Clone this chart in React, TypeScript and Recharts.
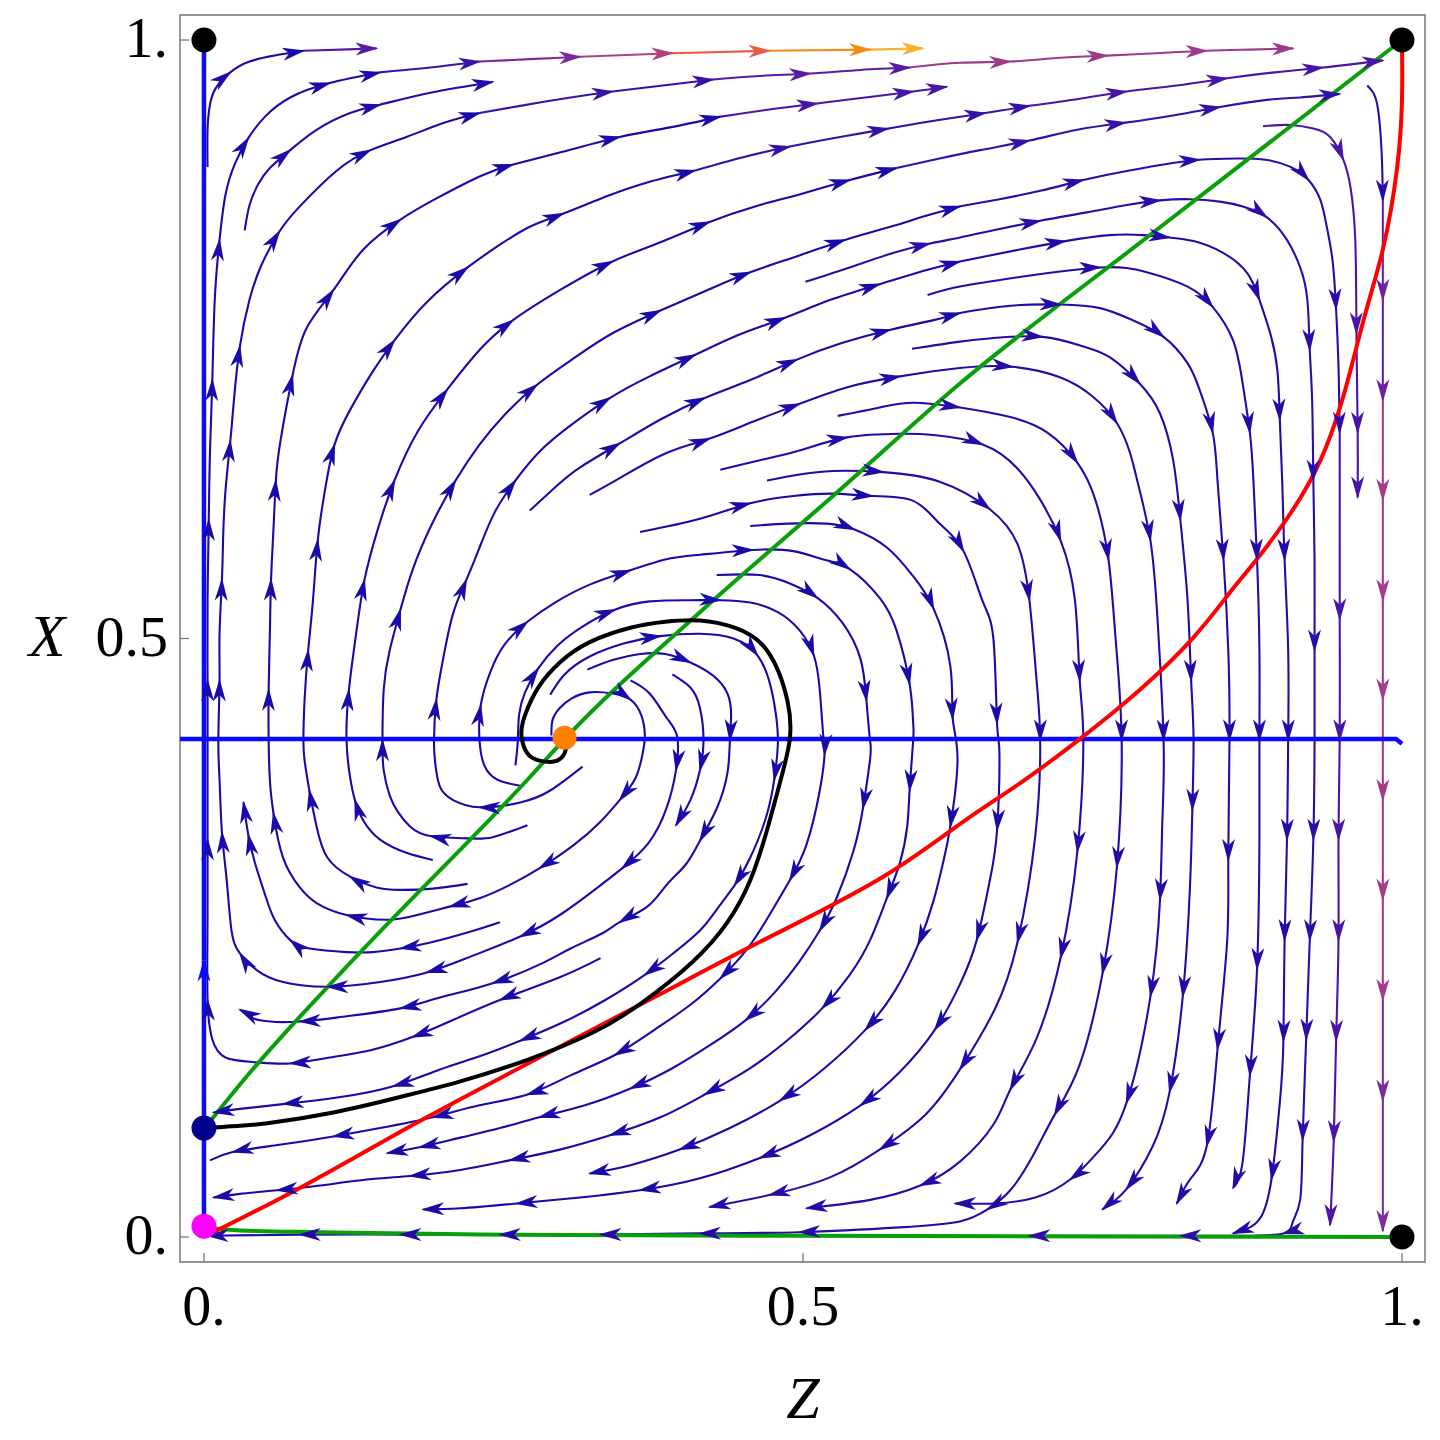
import React from "react";
import { ComposedChart, Line, Scatter, XAxis, YAxis, ReferenceArea } from "recharts";

type Pair = [number, number];

const Z_RANGE: Pair = [-0.02, 1.0192];
const X_RANGE: Pair = [-0.0209, 1.0209];
const TICK_VALUES = [0, 0.5, 1];
const TICK_LABELS = ["0.", "0.5", "1."];

// fixed points (Z, X)
const cornerDots: Pair[] = [[0, 1], [1, 1], [1, 0]];
const navyDot: Pair[] = [[0, 0.091]];
const magentaDot: Pair[] = [[0, 0.009]];
const focusDot: Pair[] = [[0.301, 0.417]];

// invariant lines and special curves
const axisZ0Low: Pair[] = [[0, 0.009], [0, 0.231]];
const axisZ0High: Pair[] = [[0, 0.231], [0, 1]];
const axisX: Pair[] = [[-0.02, 0.416], [0.995, 0.416], [1.0, 0.412]];
const greenDiag: Pair[] = [[0.003, 0.094], [0.033, 0.131], [0.124, 0.231], [0.27, 0.382], [0.302, 0.417], [0.414, 0.522], [0.525, 0.619], [0.631, 0.713], [0.787, 0.835], [1.0, 1.0]];
const greenBottom: Pair[] = [[0.001, 0.008], [0.009, 0.007], [0.03, 0.0055], [0.097, 0.004], [0.23, 0.002], [0.497, 0.001], [0.748, 0.0005], [1.0, 0]];
const redCurve: Pair[] = [[0, 0], [0.08, 0.041], [0.164, 0.088], [0.214, 0.115], [0.297, 0.159], [0.381, 0.203], [0.467, 0.248], [0.562, 0.298], [0.631, 0.345], [0.681, 0.379], [0.731, 0.416], [0.781, 0.457], [0.826, 0.501], [0.856, 0.538], [0.881, 0.569], [0.932, 0.649], [0.965, 0.755], [0.984, 0.825], [0.996, 0.894], [1.0, 0.95], [1.0, 1.0]];
const blackCurve: Pair[] = [[0.002, 0.091], [0.03, 0.093], [0.053, 0.095], [0.108, 0.104], [0.164, 0.117], [0.214, 0.13], [0.27, 0.148], [0.325, 0.171], [0.366, 0.196], [0.408, 0.23], [0.437, 0.263], [0.456, 0.298], [0.47, 0.34], [0.483, 0.388], [0.489, 0.416], [0.487, 0.448], [0.47, 0.49], [0.443, 0.509], [0.414, 0.515], [0.385, 0.514], [0.356, 0.509], [0.322, 0.497], [0.297, 0.48], [0.279, 0.459], [0.268, 0.436], [0.265, 0.419], [0.27, 0.404], [0.28, 0.398], [0.295, 0.398], [0.302, 0.407], [0.302, 0.414]];

// streamlines in flow order
const sB1: Pair[] = [[0.331, 0.233], [0.297, 0.217], [0.247, 0.198], [0.205, 0.18], [0.174, 0.167], [0.139, 0.156], [0.105, 0.15], [0.072, 0.145], [0.043, 0.146], [0.018, 0.15], [0.007, 0.165], [0.003, 0.198], [0.003, 0.265], [0.003, 0.332], [0.003, 0.398], [0.003, 0.465], [0.003, 0.532], [0.004, 0.599], [0.005, 0.655], [0.007, 0.716], [0.009, 0.783], [0.013, 0.833], [0.018, 0.871], [0.026, 0.897], [0.037, 0.918], [0.051, 0.936], [0.072, 0.952], [0.105, 0.964], [0.147, 0.973]];
const sTopA: Pair[] = [[0.147, 0.973], [0.189, 0.977], [0.23, 0.982]];
const sTopB: Pair[] = [[0.23, 0.982], [0.272, 0.984], [0.314, 0.986]];
const sTopC: Pair[] = [[0.314, 0.986], [0.391, 0.989]];
const sTopD: Pair[] = [[0.391, 0.989], [0.472, 0.991]];
const sTopE: Pair[] = [[0.472, 0.991], [0.556, 0.992]];
const sTopF: Pair[] = [[0.556, 0.992], [0.6, 0.993]];
const sL1: Pair[] = [[0.003, 0.894], [0.003, 0.925], [0.005, 0.946], [0.01, 0.96], [0.022, 0.973], [0.038, 0.982], [0.059, 0.987], [0.083, 0.991]];
const sL1b: Pair[] = [[0.083, 0.991], [0.114, 0.992], [0.144, 0.993]];
const sLc: Pair[] = [[0.034, 0.841], [0.038, 0.862], [0.045, 0.879], [0.055, 0.893], [0.072, 0.908], [0.094, 0.925], [0.122, 0.939], [0.147, 0.946], [0.189, 0.956], [0.241, 0.965]];
const sLd: Pair[] = [[0.356, 0.465], [0.372, 0.454], [0.386, 0.434], [0.395, 0.418], [0.394, 0.39], [0.386, 0.358], [0.371, 0.329], [0.349, 0.308], [0.326, 0.29], [0.297, 0.269], [0.264, 0.251], [0.222, 0.234], [0.186, 0.221], [0.147, 0.213], [0.103, 0.209], [0.066, 0.213], [0.044, 0.223], [0.03, 0.237], [0.023, 0.256], [0.019, 0.298], [0.015, 0.338], [0.013, 0.382], [0.012, 0.415], [0.013, 0.465], [0.013, 0.504], [0.015, 0.549], [0.016, 0.584], [0.018, 0.624], [0.022, 0.665], [0.025, 0.699], [0.03, 0.744], [0.038, 0.783], [0.048, 0.812], [0.063, 0.84], [0.08, 0.861], [0.111, 0.891], [0.139, 0.908], [0.169, 0.919], [0.201, 0.931], [0.23, 0.939]];
const sLd2: Pair[] = [[0.23, 0.939], [0.264, 0.945], [0.306, 0.952], [0.341, 0.957], [0.383, 0.962], [0.425, 0.967]];
const sLd3: Pair[] = [[0.425, 0.967], [0.464, 0.97], [0.506, 0.972], [0.548, 0.975], [0.589, 0.977]];
const sLd4: Pair[] = [[0.589, 0.977], [0.631, 0.981], [0.673, 0.982], [0.712, 0.985], [0.754, 0.987], [0.795, 0.989], [0.837, 0.991], [0.873, 0.992], [0.909, 0.993]];
const sLe: Pair[] = [[0.29, 0.419], [0.291, 0.432], [0.297, 0.442], [0.307, 0.45], [0.322, 0.455], [0.341, 0.454], [0.356, 0.449], [0.365, 0.436], [0.368, 0.419], [0.366, 0.403], [0.36, 0.383], [0.347, 0.365], [0.331, 0.347], [0.308, 0.327], [0.28, 0.308], [0.255, 0.294], [0.23, 0.283], [0.205, 0.276], [0.178, 0.269], [0.153, 0.265], [0.119, 0.269], [0.094, 0.279], [0.08, 0.292], [0.066, 0.317], [0.058, 0.354], [0.055, 0.382], [0.054, 0.415], [0.054, 0.457], [0.055, 0.504], [0.056, 0.549], [0.058, 0.591], [0.06, 0.632], [0.064, 0.666], [0.074, 0.72], [0.086, 0.76], [0.108, 0.791], [0.133, 0.825], [0.164, 0.85], [0.191, 0.866], [0.23, 0.886], [0.258, 0.896], [0.297, 0.906], [0.347, 0.919], [0.389, 0.927], [0.431, 0.936]];
const sLe2: Pair[] = [[0.431, 0.936], [0.472, 0.942], [0.512, 0.947], [0.552, 0.952], [0.592, 0.957], [0.62, 0.961]];
const sD: Pair[] = [[0.247, 0.263], [0.222, 0.255], [0.189, 0.246], [0.164, 0.241], [0.141, 0.238], [0.119, 0.238], [0.088, 0.241], [0.072, 0.248], [0.059, 0.265], [0.051, 0.286], [0.043, 0.311], [0.037, 0.336], [0.033, 0.363]];
const sLf: Pair[] = [[0.22, 0.295], [0.191, 0.291], [0.164, 0.29], [0.144, 0.292], [0.122, 0.301], [0.103, 0.317], [0.094, 0.343], [0.088, 0.373], [0.084, 0.398], [0.083, 0.415], [0.084, 0.449], [0.087, 0.49], [0.091, 0.532], [0.095, 0.582], [0.101, 0.624], [0.109, 0.662], [0.122, 0.691], [0.139, 0.72], [0.159, 0.749], [0.186, 0.781], [0.22, 0.81], [0.247, 0.829], [0.272, 0.844], [0.3, 0.855], [0.335, 0.869], [0.37, 0.881], [0.41, 0.891]];
const sLf2: Pair[] = [[0.41, 0.891], [0.45, 0.902], [0.489, 0.911], [0.531, 0.919], [0.571, 0.926], [0.612, 0.933], [0.652, 0.939], [0.689, 0.945]];
const sLf3: Pair[] = [[0.689, 0.945], [0.731, 0.951], [0.77, 0.957], [0.812, 0.962], [0.854, 0.968], [0.894, 0.973], [0.934, 0.977], [0.984, 0.983]];
const sLg: Pair[] = [[0.191, 0.315], [0.169, 0.321], [0.147, 0.332], [0.133, 0.348], [0.126, 0.365], [0.122, 0.384], [0.119, 0.415], [0.121, 0.457], [0.127, 0.504], [0.134, 0.549], [0.145, 0.591], [0.159, 0.632], [0.179, 0.674], [0.203, 0.708], [0.23, 0.741], [0.258, 0.766], [0.297, 0.791], [0.341, 0.815], [0.381, 0.831], [0.422, 0.848], [0.46, 0.861], [0.497, 0.871], [0.539, 0.883], [0.578, 0.893]];
const sLg2: Pair[] = [[0.578, 0.893], [0.614, 0.901], [0.648, 0.908], [0.689, 0.916], [0.729, 0.925], [0.769, 0.931], [0.809, 0.937], [0.848, 0.944], [0.887, 0.95], [0.915, 0.952], [0.948, 0.955]];
const sLh: Pair[] = [[0.27, 0.344], [0.241, 0.334], [0.22, 0.333], [0.189, 0.335], [0.172, 0.343], [0.162, 0.355], [0.155, 0.369], [0.15, 0.39], [0.149, 0.415], [0.15, 0.457], [0.155, 0.49], [0.164, 0.524], [0.174, 0.557], [0.19, 0.595], [0.21, 0.632], [0.23, 0.662], [0.251, 0.687], [0.278, 0.712], [0.31, 0.735], [0.341, 0.755], [0.381, 0.774], [0.42, 0.791], [0.456, 0.806], [0.497, 0.82], [0.535, 0.833], [0.573, 0.844], [0.602, 0.853], [0.631, 0.861]];
const sLh2: Pair[] = [[0.631, 0.861], [0.664, 0.867], [0.698, 0.874], [0.734, 0.883], [0.767, 0.89], [0.801, 0.896], [0.831, 0.9], [0.862, 0.901], [0.886, 0.9], [0.907, 0.894], [0.922, 0.883], [0.932, 0.866], [0.937, 0.845], [0.942, 0.816], [0.945, 0.775], [0.947, 0.727], [0.948, 0.672]];
const sLh3: Pair[] = [[0.948, 0.672], [0.948, 0.599], [0.948, 0.516], [0.948, 0.415], [0.947, 0.332], [0.947, 0.248], [0.945, 0.164], [0.943, 0.08], [0.94, 0.01]];
const sLi: Pair[] = [[0.316, 0.393], [0.289, 0.373], [0.264, 0.363], [0.23, 0.359], [0.208, 0.365], [0.197, 0.376], [0.193, 0.396], [0.192, 0.415], [0.194, 0.449], [0.2, 0.485], [0.208, 0.521], [0.219, 0.549], [0.23, 0.576], [0.243, 0.606], [0.26, 0.632], [0.28, 0.656], [0.306, 0.678], [0.339, 0.701], [0.372, 0.719], [0.41, 0.737], [0.447, 0.754], [0.485, 0.768], [0.523, 0.783], [0.564, 0.796], [0.604, 0.808], [0.631, 0.815]];
const sLi2: Pair[] = [[0.631, 0.815], [0.681, 0.825], [0.719, 0.832], [0.756, 0.837], [0.784, 0.837], [0.806, 0.835], [0.826, 0.832], [0.851, 0.822], [0.871, 0.805], [0.881, 0.783], [0.89, 0.755], [0.896, 0.724], [0.898, 0.683], [0.9, 0.632], [0.902, 0.566], [0.905, 0.49], [0.905, 0.415], [0.904, 0.332], [0.902, 0.248], [0.901, 0.164], [0.898, 0.112], [0.891, 0.048], [0.883, 0.018], [0.873, 0.008], [0.859, 0.003]];
const s827: Pair[] = [[0.26, 0.394], [0.262, 0.415], [0.263, 0.436], [0.268, 0.455], [0.279, 0.475], [0.295, 0.494], [0.316, 0.51], [0.343, 0.524], [0.372, 0.531], [0.406, 0.532], [0.431, 0.532], [0.456, 0.53], [0.479, 0.522], [0.497, 0.507], [0.509, 0.486], [0.514, 0.457], [0.517, 0.418], [0.518, 0.403], [0.514, 0.373], [0.503, 0.328], [0.489, 0.298], [0.472, 0.269], [0.453, 0.24], [0.431, 0.216], [0.406, 0.194], [0.376, 0.173], [0.343, 0.152], [0.306, 0.135], [0.27, 0.119], [0.23, 0.11], [0.191, 0.1], [0.147, 0.091], [0.108, 0.084], [0.063, 0.077], [0.024, 0.071], [0.005, 0.064]];
const sB: Pair[] = [[0.32, 0.474], [0.341, 0.482], [0.364, 0.487], [0.385, 0.487], [0.406, 0.48], [0.425, 0.469], [0.437, 0.454], [0.44, 0.436], [0.439, 0.415], [0.437, 0.388], [0.428, 0.358], [0.414, 0.331], [0.402, 0.311], [0.386, 0.294], [0.37, 0.276], [0.347, 0.263], [0.333, 0.254], [0.306, 0.241], [0.283, 0.229], [0.241, 0.212], [0.197, 0.2], [0.164, 0.191], [0.116, 0.184], [0.08, 0.18], [0.047, 0.181], [0.03, 0.19]];
const s703: Pair[] = [[0.391, 0.47], [0.406, 0.459], [0.414, 0.442], [0.417, 0.415], [0.414, 0.39], [0.406, 0.365], [0.394, 0.344]];
const sB2: Pair[] = [[0.289, 0.453], [0.301, 0.47], [0.322, 0.485], [0.351, 0.496], [0.381, 0.502], [0.414, 0.504], [0.442, 0.5], [0.462, 0.486], [0.473, 0.46], [0.478, 0.432], [0.479, 0.411], [0.476, 0.382], [0.469, 0.35], [0.456, 0.317], [0.443, 0.294], [0.429, 0.275], [0.414, 0.256], [0.393, 0.238], [0.368, 0.219], [0.335, 0.198], [0.301, 0.18], [0.264, 0.164], [0.23, 0.151], [0.197, 0.14], [0.158, 0.126], [0.114, 0.117], [0.066, 0.111], [0.03, 0.107], [0.008, 0.104]];
const s870: Pair[] = [[0.428, 0.553], [0.464, 0.553], [0.489, 0.546], [0.512, 0.534], [0.533, 0.513], [0.548, 0.483], [0.553, 0.448], [0.556, 0.415], [0.556, 0.399], [0.55, 0.358], [0.542, 0.322], [0.528, 0.283], [0.514, 0.256], [0.497, 0.23], [0.477, 0.205], [0.452, 0.181], [0.422, 0.16], [0.391, 0.141], [0.356, 0.124], [0.318, 0.11], [0.28, 0.1], [0.247, 0.091], [0.214, 0.083], [0.18, 0.075], [0.153, 0.07]];
const s913: Pair[] = [[0.264, 0.377], [0.245, 0.382], [0.234, 0.394], [0.23, 0.415], [0.231, 0.444], [0.239, 0.472], [0.251, 0.495], [0.27, 0.514], [0.293, 0.53], [0.322, 0.545], [0.356, 0.557], [0.385, 0.566], [0.414, 0.57], [0.458, 0.574], [0.492, 0.573], [0.517, 0.566], [0.539, 0.558], [0.564, 0.534], [0.578, 0.507], [0.589, 0.462], [0.592, 0.429], [0.592, 0.415], [0.589, 0.373], [0.587, 0.343], [0.581, 0.313], [0.57, 0.283], [0.556, 0.248], [0.539, 0.219], [0.516, 0.191], [0.489, 0.166], [0.456, 0.141], [0.418, 0.119], [0.381, 0.1], [0.339, 0.085], [0.297, 0.073], [0.255, 0.064], [0.214, 0.056], [0.172, 0.051], [0.136, 0.048], [0.097, 0.043], [0.061, 0.039], [0.03, 0.036], [0.008, 0.033]];
const s957: Pair[] = [[0.456, 0.594], [0.487, 0.596], [0.52, 0.596], [0.543, 0.591], [0.57, 0.576], [0.592, 0.552], [0.609, 0.525], [0.623, 0.477], [0.625, 0.433], [0.629, 0.399], [0.623, 0.343], [0.617, 0.313], [0.609, 0.281], [0.596, 0.244], [0.577, 0.206], [0.552, 0.173], [0.518, 0.141], [0.481, 0.114], [0.439, 0.091], [0.397, 0.073], [0.356, 0.06], [0.322, 0.053]];
const s1002: Pair[] = [[0.364, 0.589], [0.414, 0.6], [0.456, 0.613], [0.492, 0.619], [0.525, 0.621], [0.558, 0.619], [0.592, 0.615], [0.614, 0.596], [0.634, 0.573], [0.65, 0.531], [0.659, 0.499], [0.662, 0.429], [0.664, 0.403], [0.662, 0.34], [0.656, 0.298], [0.645, 0.248], [0.631, 0.211], [0.61, 0.173], [0.581, 0.138], [0.548, 0.11], [0.506, 0.085], [0.464, 0.066], [0.414, 0.049], [0.364, 0.039], [0.314, 0.033], [0.261, 0.028], [0.214, 0.024], [0.183, 0.023]];
const s1040: Pair[] = [[0.47, 0.632], [0.497, 0.637], [0.525, 0.64], [0.567, 0.639], [0.614, 0.631], [0.656, 0.608], [0.679, 0.579], [0.689, 0.532], [0.695, 0.465], [0.698, 0.415], [0.694, 0.336], [0.679, 0.246], [0.66, 0.19], [0.631, 0.14], [0.602, 0.102], [0.564, 0.073], [0.523, 0.05], [0.472, 0.035], [0.422, 0.025]];
const s1083: Pair[] = [[0.431, 0.641], [0.464, 0.649], [0.497, 0.657], [0.537, 0.668], [0.581, 0.671], [0.609, 0.67], [0.65, 0.662], [0.679, 0.642], [0.698, 0.616], [0.715, 0.582], [0.727, 0.532], [0.731, 0.465], [0.734, 0.415], [0.729, 0.322], [0.715, 0.233], [0.695, 0.166], [0.673, 0.123], [0.659, 0.094], [0.631, 0.063], [0.598, 0.043], [0.556, 0.031], [0.503, 0.024]];
const s1122: Pair[] = [[0.529, 0.686], [0.564, 0.693], [0.592, 0.697], [0.631, 0.693], [0.673, 0.685], [0.704, 0.672], [0.729, 0.647], [0.744, 0.616], [0.755, 0.566], [0.761, 0.499], [0.766, 0.415], [0.762, 0.309], [0.75, 0.22], [0.731, 0.144], [0.71, 0.102], [0.692, 0.068], [0.673, 0.039], [0.654, 0.023], [0.631, 0.013], [0.581, 0.008], [0.497, 0.004], [0.414, 0.003], [0.331, 0.002], [0.247, 0.002], [0.164, 0.002], [0.08, 0.002], [0.003, 0.001]];
const s1163: Pair[] = [[0.322, 0.62], [0.347, 0.634], [0.386, 0.655], [0.422, 0.667], [0.458, 0.681], [0.497, 0.696], [0.537, 0.71], [0.581, 0.719], [0.631, 0.726], [0.675, 0.727], [0.715, 0.718], [0.742, 0.702], [0.762, 0.68], [0.773, 0.655], [0.779, 0.632], [0.79, 0.582], [0.796, 0.515], [0.801, 0.415], [0.8, 0.348], [0.798, 0.282], [0.79, 0.201], [0.77, 0.112], [0.748, 0.073], [0.723, 0.048], [0.694, 0.033], [0.66, 0.028], [0.627, 0.028]];
const s1193: Pair[] = [[0.591, 0.742], [0.631, 0.748], [0.659, 0.751], [0.7, 0.752], [0.734, 0.744], [0.756, 0.735], [0.781, 0.713], [0.798, 0.688], [0.809, 0.649], [0.815, 0.599], [0.821, 0.532], [0.824, 0.465], [0.826, 0.417], [0.825, 0.357], [0.823, 0.292], [0.817, 0.201], [0.806, 0.121], [0.792, 0.076], [0.77, 0.04], [0.75, 0.023]];
const sLj: Pair[] = [[0.272, 0.607], [0.295, 0.628], [0.314, 0.643], [0.347, 0.663], [0.381, 0.683], [0.418, 0.701], [0.456, 0.716], [0.495, 0.733], [0.533, 0.747], [0.573, 0.758], [0.609, 0.766], [0.631, 0.772]];
const sLj2: Pair[] = [[0.631, 0.772], [0.673, 0.778], [0.715, 0.779], [0.748, 0.776], [0.775, 0.766], [0.801, 0.752], [0.821, 0.73], [0.831, 0.708], [0.842, 0.672], [0.846, 0.632], [0.851, 0.566], [0.855, 0.49], [0.856, 0.415], [0.855, 0.315], [0.854, 0.246], [0.846, 0.157], [0.837, 0.076], [0.823, 0.048], [0.812, 0.028]];
const s1260: Pair[] = [[0.604, 0.787], [0.631, 0.794], [0.681, 0.802], [0.748, 0.81], [0.787, 0.806], [0.821, 0.794], [0.842, 0.777], [0.859, 0.749], [0.867, 0.713], [0.873, 0.672], [0.876, 0.632], [0.879, 0.566], [0.881, 0.49], [0.881, 0.415], [0.881, 0.336], [0.879, 0.224], [0.873, 0.135], [0.867, 0.063], [0.859, 0.041]];
const s1315: Pair[] = [[0.502, 0.798], [0.539, 0.81], [0.575, 0.822], [0.606, 0.83], [0.631, 0.835], [0.659, 0.841], [0.698, 0.849], [0.737, 0.856], [0.769, 0.862], [0.798, 0.866], [0.823, 0.867], [0.848, 0.865], [0.867, 0.861], [0.887, 0.852], [0.904, 0.833], [0.915, 0.81], [0.921, 0.783], [0.923, 0.741], [0.925, 0.699], [0.926, 0.632], [0.927, 0.566], [0.927, 0.49], [0.927, 0.415], [0.926, 0.332], [0.923, 0.248], [0.92, 0.165], [0.917, 0.081], [0.915, 0.031], [0.909, 0.013], [0.901, 0.003], [0.865, 0.001], [0.815, 0.001], [0.748, 0.001], [0.689, 0.001]];
const s1358: Pair[] = [[0.884, 0.928], [0.907, 0.929], [0.926, 0.926], [0.94, 0.919], [0.951, 0.9], [0.957, 0.877], [0.961, 0.833], [0.962, 0.755], [0.963, 0.672], [0.963, 0.618]];
const s1383a: Pair[] = [[0.971, 0.962], [0.976, 0.956], [0.98, 0.942], [0.983, 0.906], [0.984, 0.866]];
const s1383b: Pair[] = [[0.984, 0.866], [0.984, 0.783], [0.984, 0.699]];
const s1383c: Pair[] = [[0.984, 0.699], [0.984, 0.616], [0.984, 0.532], [0.984, 0.449], [0.984, 0.365], [0.984, 0.282], [0.984, 0.198]];
const s1383d: Pair[] = [[0.984, 0.198], [0.984, 0.114], [0.984, 0.005]];

const BLUE = "#1a0aa8";
const BLUE_R = "#250aa8";

const STREAMS: [Pair[], string][] = [
  [sB1, BLUE], [sTopA, "#3c12a8"], [sTopB, "#7a2a9e"], [sTopC, "#b0427f"], [sTopD, "#e65c44"], [sTopE, "#f58a12"], [sTopF, "#fbb02a"],
  [sL1, BLUE], [sL1b, "#5a1aa6"], [sLc, "#240ba8"],
  [sLd, BLUE], [sLd2, "#3c10a8"], [sLd3, "#5a1aa6"], [sLd4, "#9c3a8e"],
  [sLe, BLUE], [sLe2, "#4a14a6"], [sD, BLUE],
  [sLf, BLUE], [sLf2, "#3410a8"], [sLf3, "#4a14a6"],
  [sLg, BLUE], [sLg2, "#3410a8"],
  [sLh, BLUE], [sLh2, "#2c0ca8"], [sLh3, "#4a14a6"],
  [sLi, BLUE], [sLi2, BLUE_R],
  [s827, BLUE], [sB, BLUE], [s703, BLUE], [sB2, BLUE],
  [s870, BLUE], [s913, BLUE], [s957, BLUE], [s1002, BLUE],
  [s1040, BLUE_R], [s1083, BLUE_R], [s1122, BLUE_R], [s1163, BLUE_R], [s1193, BLUE_R],
  [sLj, BLUE], [sLj2, BLUE_R], [s1260, BLUE_R], [s1315, "#2e0ca8"], [s1358, "#4a14a6"],
  [s1383a, "#2e0caa"], [s1383b, "#6a22a2"], [s1383c, "#a63a8a"], [s1383d, "#7c2c9e"],
];

const FONT = "'Liberation Serif', 'Times New Roman', serif";
const FRAME = "#707070";
const KX = 1245 / (Z_RANGE[1] - Z_RANGE[0]);
const KY = 1247 / (X_RANGE[1] - X_RANGE[0]);
const ARROW_GAP = 95;

const rows = (p: Pair[]) => p.map(([z, x]) => ({ z, x }));

// arrowheads sit on data points, roughly every ARROW_GAP pixels along the line
function arrowDots(pts: Pair[], color: string) {
  const marks = new Set<number>();
  let run = 0;
  for (let i = 1; i < pts.length; i++) {
    run += Math.hypot((pts[i][0] - pts[i - 1][0]) * KX, (pts[i][1] - pts[i - 1][1]) * KY);
    const last = i === pts.length - 1;
    if (run >= ARROW_GAP || (last && run >= 30)) {
      marks.add(i);
      run = 0;
    }
  }
  return (props: any) => {
    const { cx, cy, index } = props;
    if (!marks.has(index) || cx == null || cy == null) return <g key={`d${index}`} />;
    const a = pts[index - 1];
    const b = pts[Math.min(index + 1, pts.length - 1)];
    const ang = (Math.atan2(-(b[1] - a[1]) * KY, (b[0] - a[0]) * KX) * 180) / Math.PI;
    return (
      <path
        key={`d${index}`}
        d="M2,0 L-21,-6.5 L-14.5,0 L-21,6.5 Z"
        transform={`translate(${cx},${cy}) rotate(${ang})`}
        fill={color}
      />
    );
  };
}

function LeftTick(props: any) {
  const { x, y, payload } = props;
  const label = TICK_LABELS[TICK_VALUES.indexOf(payload.value)];
  return (
    <g>
      <line x1={x} x2={x + 9} y1={y} y2={y} stroke={FRAME} strokeWidth={1.2} />
      <text x={x - 12} y={y + 17} textAnchor="end" fontSize={58} fontFamily={FONT} fill="#000">
        {label}
      </text>
      {payload.value === 0.5 && (
        <text x={x - 133} y={y + 17} textAnchor="middle" fontSize={60} fontStyle="italic" fontFamily={FONT} fill="#000">
          X
        </text>
      )}
    </g>
  );
}

function BottomTick(props: any) {
  const { x, y, payload } = props;
  const label = TICK_LABELS[TICK_VALUES.indexOf(payload.value)];
  return (
    <g>
      <line x1={x} x2={x} y1={y} y2={y - 9} stroke={FRAME} strokeWidth={1.2} />
      <text x={x} y={y + 63} textAnchor="middle" fontSize={58} fontFamily={FONT} fill="#000">
        {label}
      </text>
      {payload.value === 0.5 && (
        <text x={x} y={y + 156} textAnchor="middle" fontSize={60} fontStyle="italic" fontFamily={FONT} fill="#000">
          Z
        </text>
      )}
    </g>
  );
}

const dotShape = (r: number, fill: string) => (p: any) => <circle cx={p.cx} cy={p.cy} r={r} fill={fill} />;

export default function App() {
  return (
    <div style={{ margin: -8, width: 1440, height: 1440, background: "#fff" }}>
      <ComposedChart width={1440} height={1440} margin={{ top: 15, right: 15, bottom: 0, left: 0 }}>
        <XAxis
          type="number"
          dataKey="z"
          domain={Z_RANGE}
          ticks={TICK_VALUES}
          interval={0}
          allowDataOverflow
          height={178}
          axisLine={false}
          tickLine={false}
          tickSize={0}
          tickMargin={0}
          tick={<BottomTick />}
        />
        <YAxis
          type="number"
          dataKey="x"
          domain={X_RANGE}
          ticks={TICK_VALUES}
          interval={0}
          allowDataOverflow
          width={180}
          axisLine={false}
          tickLine={false}
          tickSize={0}
          tickMargin={0}
          tick={<LeftTick />}
        />
        <ReferenceArea
          x1={Z_RANGE[0]}
          x2={Z_RANGE[1]}
          y1={X_RANGE[0]}
          y2={X_RANGE[1]}
          fill="none"
          stroke={FRAME}
          strokeWidth={1.4}
          ifOverflow="visible"
        />
        {STREAMS.map(([pts, color], i) => (
          <Line
            key={`s${i}`}
            data={rows(pts)}
            dataKey="x"
            type="natural"
            stroke={color}
            strokeWidth={2.1}
            dot={arrowDots(pts, color)}
            activeDot={false}
            legendType="none"
            isAnimationActive={false}
          />
        ))}
        <Line data={rows(axisZ0Low)} dataKey="x" type="linear" stroke="#0a0aff" strokeWidth={4.5} dot={arrowDots(axisZ0Low, "#0a0aff")} activeDot={false} isAnimationActive={false} />
        <Line data={rows(axisZ0High)} dataKey="x" type="linear" stroke="#0a0aff" strokeWidth={4.5} dot={false} activeDot={false} isAnimationActive={false} />
        <Line data={rows(axisX)} dataKey="x" type="linear" stroke="#0a0aff" strokeWidth={4.5} dot={false} activeDot={false} isAnimationActive={false} />
        <Line data={rows(greenBottom)} dataKey="x" type="monotoneX" stroke="#08a008" strokeWidth={4} dot={false} activeDot={false} isAnimationActive={false} />
        <Line data={rows(greenDiag)} dataKey="x" type="monotoneX" stroke="#08a008" strokeWidth={4} dot={false} activeDot={false} isAnimationActive={false} />
        <Line data={rows(redCurve)} dataKey="x" type="natural" stroke="#ff0000" strokeWidth={4} dot={false} activeDot={false} isAnimationActive={false} />
        <Line data={rows(blackCurve)} dataKey="x" type="natural" stroke="#000000" strokeWidth={4} dot={false} activeDot={false} isAnimationActive={false} />
        <Scatter data={rows(cornerDots)} shape={dotShape(12.5, "#000")} isAnimationActive={false} legendType="none" />
        <Scatter data={rows(navyDot)} shape={dotShape(12.5, "#00008f")} isAnimationActive={false} legendType="none" />
        <Scatter data={rows(magentaDot)} shape={dotShape(12.5, "#ff00ff")} isAnimationActive={false} legendType="none" />
        <Scatter data={rows(focusDot)} shape={dotShape(12, "#ff8000")} isAnimationActive={false} legendType="none" />
      </ComposedChart>
    </div>
  );
}
